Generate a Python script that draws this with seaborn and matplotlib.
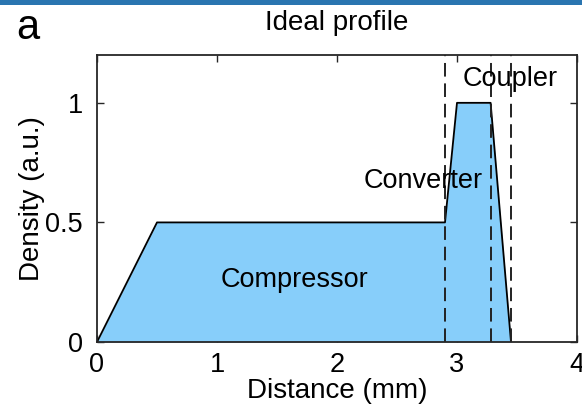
import matplotlib
matplotlib.use("Agg")
import matplotlib.pyplot as plt
import seaborn as sns
import pandas as pd
from matplotlib.patches import Rectangle

# Data
distance = [0.0, 0.5, 2.9, 3.0, 3.28, 3.45]
density = [0.0, 0.5, 0.5, 1.0, 1.0, 0.0]
boundaries = [2.9, 3.28, 3.45]
region_names = ["Compressor", "Converter", "Coupler"]
region_label_x = [1.65, 2.72, 3.44]
region_label_y = [0.26, 0.675, 1.10]
xticks = [0, 1, 2, 3, 4]
yticks = [0, 0.5, 1]
ytick_labels = ["0", "0.5", "1"]

sns.set_theme(style="white")
plt.rcParams['font.family'] = ['Liberation Sans', 'DejaVu Sans']

fig = plt.figure(figsize=(5.82, 4.05), dpi=100)
ax = fig.add_axes([97/582, 1-342/405, (577-97)/582, (342-55)/405])

df = pd.DataFrame({"Distance": distance, "Density": density})
ax.fill_between(df["Distance"], df["Density"], 0, color="#87CEFA", linewidth=0)
sns.lineplot(data=df, x="Distance", y="Density", ax=ax, color="black",
             linewidth=1.3, sort=False, estimator=None)

for b in boundaries:
    ax.axvline(b, color="#222222", linestyle=(0, (7, 3.5)), linewidth=1.4)

for name, lx, ly in zip(region_names, region_label_x, region_label_y):
    ax.text(lx, ly, name, ha="center", va="center", fontsize=19.5, color="black")

ax.set_xlim(0, 4)
ax.set_ylim(0, 1.2)
ax.set_xticks(xticks)
ax.set_xticklabels([str(t) for t in xticks])
ax.set_yticks(yticks)
ax.set_yticklabels(ytick_labels)
ax.tick_params(direction="in", length=5, width=1, labelsize=19.5, colors="#262626",
               top=True, right=True, bottom=True, left=True)
ax.tick_params(axis="x", pad=7)
ax.tick_params(axis="y", pad=10)
ax.tick_params(labelcolor="black")
for s in ax.spines.values():
    s.set_visible(True)
    s.set_color("#262626")
    s.set_linewidth(1.3)

ax.set_xlabel("Distance (mm)", fontsize=20, labelpad=0, color="black")
ax.set_ylabel("Density (a.u.)", fontsize=20, labelpad=0, color="black")
ax.set_title("Ideal profile", fontsize=20, pad=18, color="black")

fig.text(28/582, 1-28/405, "a", fontsize=30, ha="center", va="center", color="black")
fig.patches.append(Rectangle((0, 1-5/405), 1, 5/405, transform=fig.transFigure,
                             facecolor="#2a75b0", edgecolor="none"))

fig.savefig("out.png", dpi=100)
